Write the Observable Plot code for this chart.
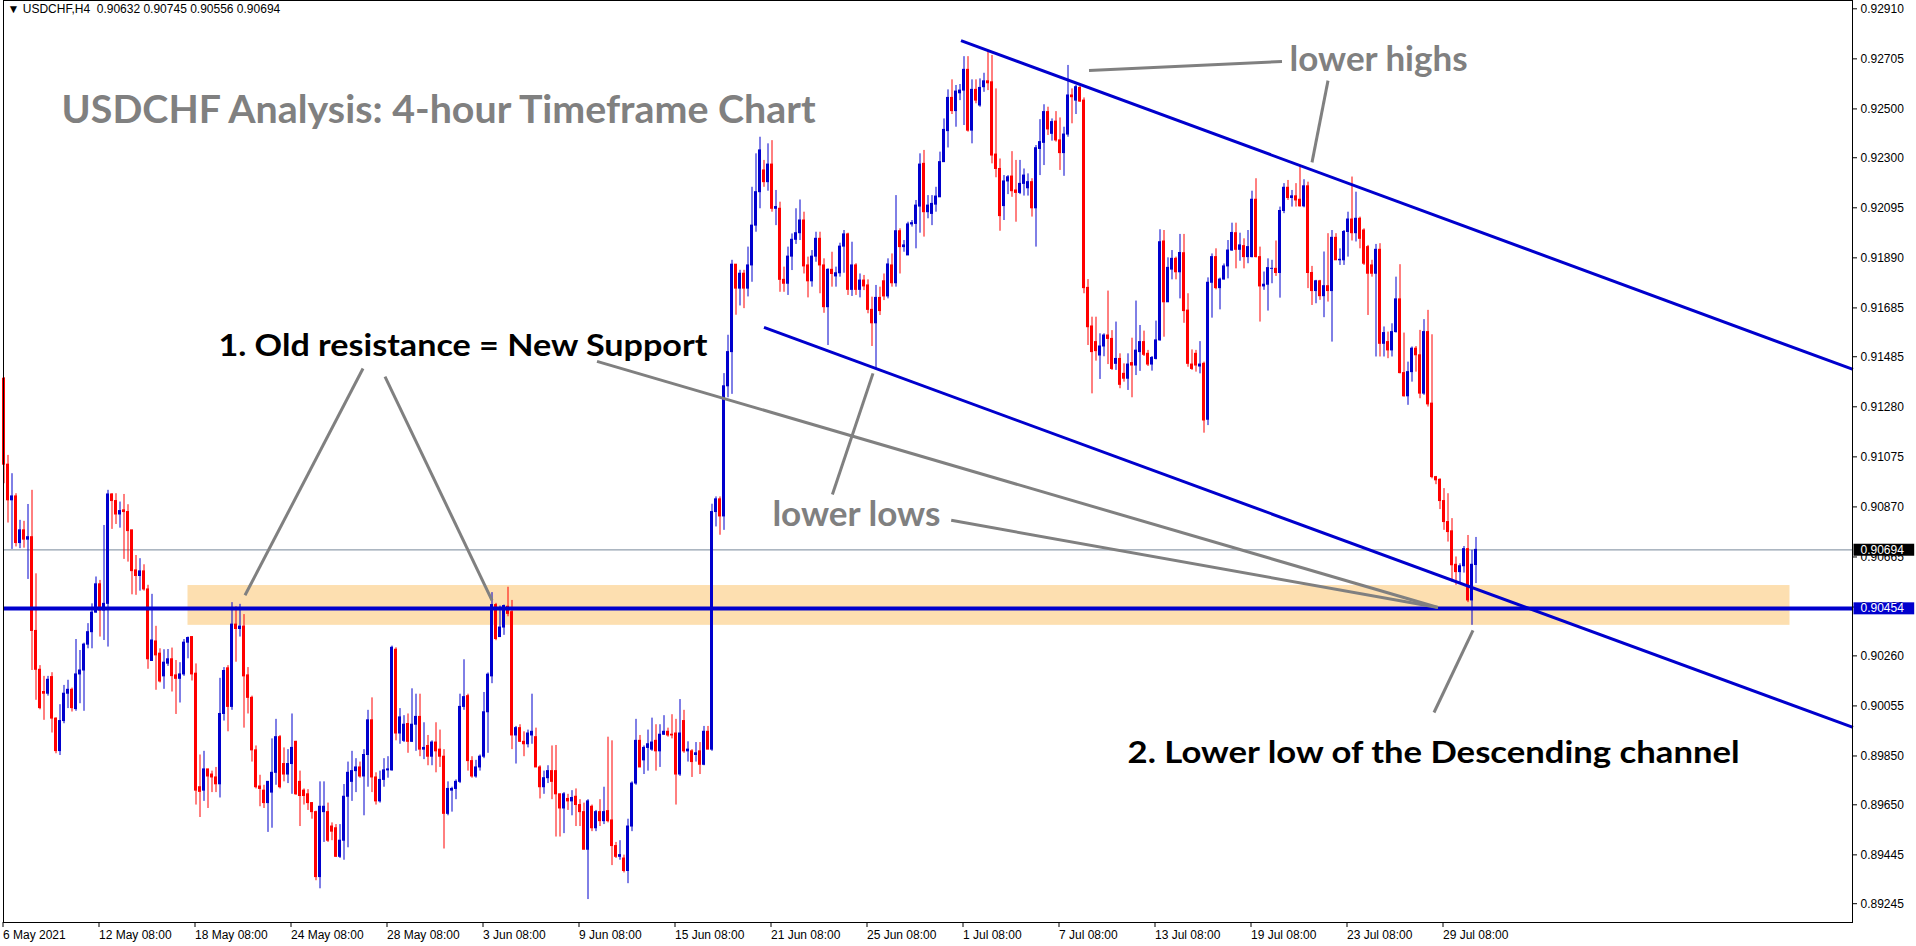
<!DOCTYPE html>
<html><head><meta charset="utf-8">
<script src="https://cdn.jsdelivr.net/npm/d3@7"></script>
<script src="https://cdn.jsdelivr.net/npm/@observablehq/plot@0.6"></script>
<style>
html,body{margin:0;padding:0;background:#fff;overflow:hidden}
#chart svg{display:block}
</style></head><body><div id="chart"></div>
<script>
// ---------- DATA ----------
const symbol = "USDCHF,H4";
// H4 candles, bar 0 = 6 May 2021 08:00
const open = [
.91395,.91043,.90897,.90913,.90722,.90774,.90736,.90746,.90362,.90203,
.90112,.90105,.90173,.90003,.89870,.89993,.90105,.90121,.90042,.90184,
.90200,.90306,.90357,.90437,.90553,.90446,.90473,.90921,.90894,.90839,
.90856,.90849,.90774,.90610,.90587,.90606,.90532,.90239,.90319,.90269,
.90176,.90228,.90246,.90180,.90166,.90184,.90314,.90337,.90187,.89722,
.89708,.89795,.89774,.89762,.89734,.90022,.90209,.90051,.90388,.90370,
.90380,.90180,.90088,.89873,.89725,.89708,.89657,.89700,.89781,.89927,
.89817,.89774,.89817,.89908,.89744,.89708,.89693,.89657,.89620,.89354,
.89620,.89620,.89561,.89554,.89437,.89503,.89683,.89744,.89788,.89803,
.89766,.89854,.89996,.89762,.89664,.89752,.89791,.89791,.90285,.89942,
.89912,.89981,.89908,.89978,.90010,.89876,.89891,.89847,.89905,.89876,
.89847,.89613,.89708,.89715,.89744,.90051,.90095,.89829,.89766,.89803,
.89847,.90029,.90176,.90468,.90337,.90376,.90461,.90439,.89934,.89964,
.89908,.89898,.89934,.89927,.89803,.89722,.89759,.89788,.89788,.89693,
.89635,.89674,.89664,.89683,.89649,.89620,.89466,.89642,.89554,.89620,
.89583,.89624,.89586,.89481,.89437,.89430,.89379,.89561,.89737,.89912,
.89832,.89883,.89876,.89912,.89869,.89937,.89949,.89937,.89942,.89774,
.89993,.89869,.89869,.89854,.89869,.89814,.89949,.89876,.90849,.90901,
.90831,.91364,.91504,.91862,.91764,.91825,.91764,.91859,.92022,.92159,
.92248,.92200,.92272,.92091,.92091,.91800,.91784,.91895,.91964,.91991,
.92043,.91859,.91794,.91895,.91968,.91859,.91688,.91841,.91814,.91827,
.91936,.91986,.91759,.91859,.91759,.91797,.91777,.91677,.91622,.91726,
.91794,.91732,.91859,.91786,.91999,.91934,.91900,.92027,.92029,.92100,
.92275,.92077,.92070,.92108,.92138,.92282,.92409,.92545,.92491,.92564,
.92575,.92660,.92411,.92578,.92514,.92589,.92613,.92609,.92313,.92254,
.92102,.92203,.92223,.92166,.92156,.92193,.92175,.92200,.92093,.92336,
.92361,.92487,.92398,.92448,.92371,.92319,.92395,.92555,.92534,.92586,
.92534,.91767,.91609,.91545,.91490,.91527,.91572,.91558,.91456,.91476,
.91415,.91395,.91459,.91449,.91504,.91545,.91497,.91453,.91476,.91552,
.91957,.91708,.91842,.91886,.91831,.91909,.91674,.91453,.91497,.91445,
.91456,.91227,.91788,.91893,.91766,.91801,.91855,.91920,.91991,.91923,
.91938,.91893,.91893,.92128,.91893,.91773,.91780,.91845,.91845,.91828,
.92082,.92177,.92135,.92142,.92128,.92101,.92183,.91828,.91754,.91794,
.91733,.91774,.91754,.91972,.91880,.91880,.91996,.92047,.91991,.92050,
.92002,.91934,.91859,.91825,.91923,.91538,.91545,.91511,.91586,.91720,
.91418,.91323,.91422,.91518,.91491,.91334,.91586,.91293,.90992,.90981,
.90894,.90808,.90770,.90633,.90603,.90627,.90697,.90487,.90632];
const high = [
.91400,.91081,.91006,.90924,.90815,.90811,.90880,.90938,.90596,.90220,
.90176,.90176,.90191,.90006,.90060,.90139,.90160,.90128,.90327,.90282,
.90312,.90392,.90473,.90583,.90569,.90794,.90938,.90924,.90924,.90890,
.90921,.90879,.90774,.90671,.90658,.90633,.90549,.90512,.90381,.90289,
.90285,.90286,.90292,.90241,.90232,.90327,.90337,.90337,.90227,.89854,
.89869,.89795,.89788,.89803,.90168,.90212,.90220,.90478,.90461,.90471,
.90429,.90212,.90095,.89891,.89771,.89730,.89744,.89920,.90000,.89934,
.89883,.89876,.90022,.89910,.89788,.89715,.89712,.89659,.89624,.89744,
.89744,.89657,.89576,.89569,.89569,.89733,.89825,.89869,.89839,.89825,
.89876,.90037,.90088,.89781,.89788,.89839,.89847,.90300,.90293,.90044,
.90015,.90022,.90125,.90103,.90103,.89986,.89934,.89912,.89986,.89956,
.89876,.89744,.89722,.89752,.90103,.90244,.90103,.89847,.89832,.89854,
.90110,.90190,.90519,.90475,.90464,.90468,.90541,.90487,.89971,.89978,
.89949,.89956,.90103,.89964,.89810,.89788,.89810,.89891,.89893,.89693,
.89700,.89693,.89708,.89715,.89671,.89657,.89671,.89649,.89627,.89671,
.89722,.89927,.89912,.89496,.89503,.89444,.89591,.89744,.90000,.89934,
.89891,.89956,.90005,.89978,.89978,.90015,.89964,.90019,.90000,.90081,
.90037,.89908,.89876,.89905,.89905,.89971,.89971,.90881,.90911,.90911,
.91416,.91573,.91880,.91862,.91839,.91839,.91934,.92179,.92316,.92384,
.92289,.92357,.92370,.92166,.92118,.91852,.91934,.91988,.92091,.92127,
.92077,.91893,.91920,.91995,.91995,.91886,.91845,.91913,.91852,.91950,
.92002,.91991,.91954,.91866,.91824,.91818,.91800,.91729,.91777,.91770,
.91824,.91886,.91906,.92145,.92009,.91961,.92036,.92043,.92125,.92316,
.92330,.92145,.92145,.92179,.92323,.92459,.92578,.92619,.92596,.92600,
.92714,.92714,.92619,.92619,.92623,.92646,.92739,.92719,.92582,.92295,
.92227,.92227,.92325,.92289,.92289,.92254,.92234,.92214,.92350,.92456,
.92517,.92507,.92459,.92489,.92463,.92425,.92678,.92582,.92596,.92592,
.92545,.91801,.91647,.91647,.91579,.91579,.91754,.91592,.91627,.91497,
.91456,.91497,.91561,.91713,.91613,.91590,.91511,.91486,.91631,.92005,
.92002,.91890,.91920,.91893,.91986,.91986,.91743,.91513,.91511,.91547,
.91463,.91808,.91906,.91927,.91807,.91865,.91961,.92032,.92032,.91991,
.91968,.92002,.92163,.92214,.91934,.91832,.91886,.91880,.91959,.92098,
.92194,.92207,.92166,.92194,.92269,.92210,.92200,.91855,.91798,.91798,
.91914,.91989,.92002,.91989,.91927,.92002,.92077,.92221,.92159,.92057,
.92009,.91941,.91880,.91945,.91948,.91607,.91586,.91620,.91811,.91862,
.91582,.91463,.91525,.91527,.91593,.91637,.91675,.91575,.90995,.90985,
.90945,.90924,.90822,.90665,.90637,.90708,.90753,.90692,.90745];
const low = [
.90965,.90804,.90696,.90706,.90699,.90701,.90573,.90200,.90078,.90039,
.89996,.90095,.89944,.89859,.89852,.89982,.90044,.90030,.90033,.90064,
.90033,.90289,.90289,.90435,.90337,.90323,.90296,.90778,.90798,.90783,
.90655,.90644,.90510,.90508,.90525,.90525,.90205,.90239,.90119,.90149,
.90123,.90217,.90112,.90020,.90067,.90176,.90248,.90157,.89649,.89598,
.89664,.89635,.89700,.89700,.89678,.89993,.89949,.90037,.90234,.90337,
.89964,.90022,.89825,.89715,.89642,.89635,.89537,.89554,.89730,.89715,
.89744,.89737,.89693,.89689,.89561,.89649,.89627,.89591,.89339,.89306,
.89496,.89496,.89503,.89434,.89430,.89423,.89474,.89664,.89700,.89759,
.89605,.89722,.89700,.89649,.89657,.89722,.89759,.89788,.89912,.89898,
.89905,.89861,.89905,.89869,.89847,.89835,.89810,.89810,.89781,.89803,
.89469,.89605,.89620,.89671,.89737,.90037,.89788,.89759,.89759,.89788,
.89839,.89861,.90146,.90322,.90337,.90344,.90420,.89876,.89817,.89905,
.89847,.89883,.89898,.89803,.89674,.89693,.89737,.89671,.89518,.89518,
.89532,.89627,.89605,.89561,.89561,.89466,.89262,.89540,.89540,.89561,
.89569,.89576,.89401,.89430,.89423,.89371,.89327,.89540,.89730,.89803,
.89774,.89788,.89869,.89788,.89803,.89934,.89927,.89920,.89649,.89766,
.89861,.89825,.89762,.89825,.89774,.89810,.89876,.89869,.90788,.90754,
.90774,.91317,.91331,.91655,.91693,.91682,.91730,.91790,.91995,.92091,
.92179,.92163,.92077,.92022,.91749,.91749,.91736,.91838,.91945,.91961,
.91824,.91726,.91770,.91872,.91743,.91663,.91531,.91770,.91770,.91811,
.91827,.91736,.91732,.91736,.91726,.91756,.91661,.91527,.91435,.91654,
.91715,.91722,.91770,.91770,.91824,.91913,.91900,.92016,.91927,.91991,
.91975,.92050,.92022,.92077,.92138,.92282,.92340,.92477,.92425,.92534,
.92432,.92405,.92357,.92521,.92507,.92568,.92575,.92275,.92218,.91999,
.92043,.92149,.92138,.92036,.92149,.92143,.92143,.92057,.91934,.92227,
.92268,.92391,.92368,.92364,.92248,.92224,.92384,.92439,.92477,.92527,
.91743,.91531,.91333,.91467,.91392,.91485,.91453,.91429,.91429,.91354,
.91381,.91347,.91317,.91408,.91425,.91486,.91445,.91426,.91472,.91549,
.91565,.91708,.91800,.91800,.91722,.91622,.91442,.91429,.91422,.91415,
.91172,.91203,.91643,.91759,.91677,.91800,.91804,.91917,.91845,.91876,
.91845,.91866,.91890,.91890,.91627,.91757,.91672,.91784,.91814,.91725,
.92071,.92125,.92098,.92098,.92098,.92095,.91764,.91695,.91702,.91716,
.91645,.91709,.91545,.91880,.91859,.91859,.91893,.91959,.91955,.91927,
.91859,.91654,.91811,.91484,.91484,.91484,.91477,.91484,.91582,.91415,
.91320,.91286,.91381,.91422,.91313,.91327,.91279,.90985,.90961,.90859,
.90774,.90726,.90562,.90549,.90558,.90599,.90478,.90385,.90556];
const close = [
.91043,.90897,.90913,.90722,.90774,.90736,.90746,.90362,.90203,.90046,
.90105,.90162,.90003,.89870,.89993,.90105,.90121,.90046,.90184,.90200,
.90306,.90357,.90437,.90553,.90446,.90473,.90921,.90894,.90839,.90853,
.90849,.90771,.90607,.90587,.90606,.90532,.90246,.90323,.90262,.90155,
.90232,.90246,.90177,.90166,.90184,.90314,.90333,.90184,.89708,.89703,
.89795,.89766,.89762,.89734,.90022,.90198,.90051,.90388,.90370,.90380,
.90176,.90088,.89873,.89722,.89715,.89657,.89744,.89781,.89927,.89722,
.89774,.89817,.89883,.89693,.89686,.89686,.89657,.89620,.89354,.89642,
.89642,.89503,.89540,.89437,.89503,.89683,.89781,.89788,.89803,.89766,
.89854,.89996,.89762,.89664,.89752,.89791,.89795,.90293,.89942,.90008,
.89978,.89908,.89978,.90010,.89876,.89883,.89847,.89905,.89869,.89847,
.89613,.89715,.89715,.89744,.90051,.90091,.89829,.89766,.89803,.89847,
.90029,.90183,.90468,.90329,.90376,.90464,.90432,.89934,.89964,.89908,
.89898,.89942,.89949,.89803,.89722,.89759,.89788,.89744,.89693,.89635,
.89693,.89664,.89678,.89649,.89620,.89466,.89664,.89554,.89620,.89583,
.89620,.89583,.89481,.89437,.89444,.89379,.89561,.89737,.89912,.89803,
.89883,.89898,.89905,.89869,.89937,.89949,.89934,.89934,.89774,.89942,
.89869,.89876,.89825,.89861,.89814,.89949,.89876,.90849,.90901,.90831,
.91364,.91504,.91862,.91764,.91825,.91764,.91859,.92022,.92159,.92330,
.92200,.92272,.92091,.92098,.91800,.91784,.91895,.91964,.91991,.92043,
.91855,.91794,.91895,.91968,.91859,.91688,.91841,.91824,.91827,.91936,
.91986,.91759,.91859,.91759,.91797,.91773,.91677,.91622,.91726,.91672,
.91732,.91863,.91786,.91999,.91934,.91941,.92027,.92032,.92104,.92272,
.92077,.92104,.92111,.92141,.92282,.92414,.92545,.92491,.92571,.92575,
.92660,.92411,.92578,.92534,.92586,.92613,.92605,.92309,.92254,.92061,
.92203,.92220,.92163,.92156,.92193,.92227,.92200,.92093,.92339,.92364,
.92487,.92416,.92446,.92371,.92319,.92395,.92555,.92548,.92589,.92530,
.91766,.91606,.91504,.91508,.91527,.91572,.91558,.91435,.91476,.91370,
.91395,.91453,.91449,.91510,.91545,.91493,.91453,.91480,.91552,.91954,
.91708,.91849,.91886,.91831,.91910,.91672,.91456,.91435,.91449,.91453,
.91224,.91788,.91893,.91766,.91801,.91855,.91920,.91992,.91923,.91941,
.91893,.91934,.92128,.91893,.91773,.91780,.91848,.91845,.91828,.92082,
.92177,.92135,.92142,.92125,.92101,.92183,.91828,.91754,.91794,.91733,
.91774,.91754,.91972,.91880,.91882,.91996,.92047,.91991,.92050,.91968,
.91866,.91825,.91825,.91923,.91538,.91582,.91511,.91586,.91720,.91418,
.91323,.91422,.91518,.91491,.91334,.91586,.91290,.90992,.90979,.90894,
.90808,.90767,.90631,.90603,.90627,.90697,.90487,.90633,.90694];

// time axis: bar index of each label and its text
const timeTickBars = [0,24,48,72,96,120,144,168,192,216,240,264,288,312,336,360];
const timeTickLabels = ["6 May 2021","12 May 08:00","18 May 08:00","24 May 08:00","28 May 08:00",
  "3 Jun 08:00","9 Jun 08:00","15 Jun 08:00","21 Jun 08:00","25 Jun 08:00","1 Jul 08:00",
  "7 Jul 08:00","13 Jul 08:00","19 Jul 08:00","23 Jul 08:00","29 Jul 08:00"];
// price axis ticks
const priceTicks = [0.92910,0.92705,0.92500,0.92300,0.92095,0.91890,0.91685,0.91485,0.91280,
  0.91075,0.90870,0.90665,0.90460,0.90260,0.90055,0.89850,0.89650,0.89445,0.89245];
const visibleBars = 462.25;          // chart shift: empty space right of the last bar
const priceRange = [0.89168, 0.92944];

// drawn objects (bar index / price)
const levels = [0.90454];
const supportZone = [{bar1: 46, bar2: 446.5, top: 0.90548, bottom: 0.90385}];
const channelLines = [
  {bar1: 239.25, p1: 0.92780, bar2: 462.25, p2: 0.91433},
  {bar1: 190,    p1: 0.91605, bar2: 462.25, p2: 0.89967}
];
const pointerLines = [
  {bar1: 89.75,  p1: 0.91437, bar2: 60.25,  p2: 0.90508},
  {bar1: 95.25,  p1: 0.91404, bar2: 122,    p2: 0.90487},
  {bar1: 148.25, p1: 0.91466, bar2: 358.5,  p2: 0.90458},
  {bar1: 236.8,  p1: 0.90815, bar2: 358.5,  p2: 0.90458},
  {bar1: 207.1,  p1: 0.90921, bar2: 217.25, p2: 0.91417},
  {bar1: 271.25, p1: 0.92657, bar2: 319.5,  p2: 0.92694},
  {bar1: 331,    p1: 0.92616, bar2: 327,    p2: 0.92281},
  {bar1: 357.5,  p1: 0.90028, bar2: 367.25, p2: 0.90364}
];
const notes = [
  {id: "title", text: "USDCHF Analysis: 4-hour Timeframe Chart", bar: 14.4, price: 0.92494},
  {id: "n1", text: "1. Old resistance = New Support", bar: 53.6, price: 0.91527},
  {id: "highs", text: "lower highs", bar: 321.4, price: 0.92698},
  {id: "lows", text: "lower lows", bar: 192.1, price: 0.90835},
  {id: "n2", text: "2. Lower low of the Descending channel", bar: 280.9, price: 0.89860}
];

// ---------- STYLE ----------
const BLUE = "#0000CD", RED = "#FF0000", GRAY = "#808080";
const noteStyle = {
  title: {fill: GRAY, size: 39, width: 754},
  n1: {fill: "#000", size: 30, width: 489},
  highs: {fill: GRAY, size: 34, width: 178},
  lows: {fill: GRAY, size: 34, width: 168},
  n2: {fill: "#000", size: 30, width: 612}
};
const AXIS_FONT = "'Liberation Sans', Arial, sans-serif";
const NOTE_FONT = "Lato, 'Open Sans', sans-serif";

// ---------- CHART ----------
const candles = open.map((o, i) => ({i, o, h: high[i], l: low[i], c: close[i]}));
const up = d => d.c >= d.o;
const last = candles[candles.length - 1];
const f5 = v => v.toFixed(5);
const header = `\u25BC ${symbol}\u00a0\u00a0${f5(last.o)} ${f5(last.h)} ${f5(last.l)} ${f5(last.c)}`;

const hasAxisMarks = typeof Plot.axisX === "function";

const marks = [
  Plot.rect(supportZone, {x1: "bar1", x2: "bar2", y1: "bottom", y2: "top", fill: "#FDDFB0"}),
  Plot.ruleY([last.c], {stroke: "#778899", strokeWidth: 1}),
  Plot.ruleX(candles, {x: "i", y1: "l", y2: "h", stroke: d => up(d) ? BLUE : RED, strokeWidth: 1}),
  Plot.rect(candles, {x1: d => d.i - 0.375, x2: d => d.i + 0.375, y1: "o", y2: "c",
    fill: d => up(d) ? BLUE : RED, insetTop: -0.5, insetBottom: -0.5}),
  Plot.ruleY(levels, {stroke: BLUE, strokeWidth: 4}),
  Plot.link(channelLines, {x1: "bar1", y1: "p1", x2: "bar2", y2: "p2", stroke: BLUE, strokeWidth: 3}),
  Plot.link(pointerLines, {x1: "bar1", y1: "p1", x2: "bar2", y2: "p2", stroke: GRAY, strokeWidth: 3}),
  ...notes.map(n => Plot.text([n], {x: "bar", y: "price", text: "text", textAnchor: "start",
    lineAnchor: "middle", fill: noteStyle[n.id].fill, fontSize: noteStyle[n.id].size,
    fontWeight: "bold", fontFamily: NOTE_FONT}))
];
if (hasAxisMarks) {
  marks.push(
    Plot.axisX(timeTickBars, {tickFormat: d => timeTickLabels[timeTickBars.indexOf(d)],
      textAnchor: "start", tickSize: 5, tickPadding: 3, dx: -1, fontSize: 12, label: null,
      fontFamily: AXIS_FONT, fill: "#000"}),
    Plot.axisY(priceTicks, {anchor: "right", tickFormat: f5, tickSize: 4, tickPadding: 4,
      fontSize: 12, label: null, fontFamily: AXIS_FONT, fill: "#000"})
  );
}
marks.push(
  Plot.text([last.c], {y: d => d, text: f5, frameAnchor: "right", textAnchor: "start", dx: 8,
    fill: "white", fontSize: 12, fontFamily: AXIS_FONT}),
  Plot.text(levels, {y: d => d, text: f5, frameAnchor: "right", textAnchor: "start", dx: 8,
    fill: "white", fontSize: 12, fontFamily: AXIS_FONT}),
  Plot.text([header], {frameAnchor: "top-left", textAnchor: "start", lineAnchor: "top",
    dx: 4, dy: 4, fontSize: 12, fill: "#000", fontFamily: AXIS_FONT}),
  Plot.frame({stroke: "#000", strokeWidth: 1})
);

const xOpts = {domain: [0, visibleBars], range: [3.5, 1852.5]};
const yOpts = {domain: priceRange};
if (!hasAxisMarks) {
  Object.assign(xOpts, {axis: "bottom", ticks: timeTickBars, tickSize: 5, label: null,
    tickFormat: d => timeTickLabels[timeTickBars.indexOf(d)]});
  Object.assign(yOpts, {axis: "right", ticks: priceTicks, tickFormat: f5, tickSize: 4, label: null});
}

const svg = Plot.plot({
  width: 1916, height: 946,
  marginLeft: 3, marginRight: 64, marginTop: 0, marginBottom: 24,
  x: xOpts, y: yOpts,
  color: {type: "identity"},
  style: {background: "#fff", fontFamily: AXIS_FONT, fontSize: "12px", color: "#000", overflow: "visible"},
  marks
});
document.getElementById("chart").append(svg);

// fit annotation widths and draw price-label boxes
const allText = [...svg.querySelectorAll("text")];
for (const n of notes) {
  const t = allText.find(e => e.textContent === n.text);
  if (t) { t.setAttribute("textLength", noteStyle[n.id].width); t.setAttribute("lengthAdjust", "spacingAndGlyphs"); }
}
for (const [val, fill] of [[last.c, "#000"], [levels[0], BLUE]]) {
  const t = allText.find(e => e.textContent === f5(val) && e.closest("g") && !e.closest("g[aria-label*='axis']"));
  if (!t) continue;
  const b = t.getBBox();
  const r = document.createElementNS("http://www.w3.org/2000/svg", "rect");
  r.setAttribute("x", b.x - 7); r.setAttribute("y", b.y + 1);
  r.setAttribute("width", b.width + 17); r.setAttribute("height", b.height - 2);
  r.setAttribute("fill", fill);
  if (t.getAttribute("transform")) r.setAttribute("transform", t.getAttribute("transform"));
  t.parentNode.insertBefore(r, t);
}
</script></body></html>
